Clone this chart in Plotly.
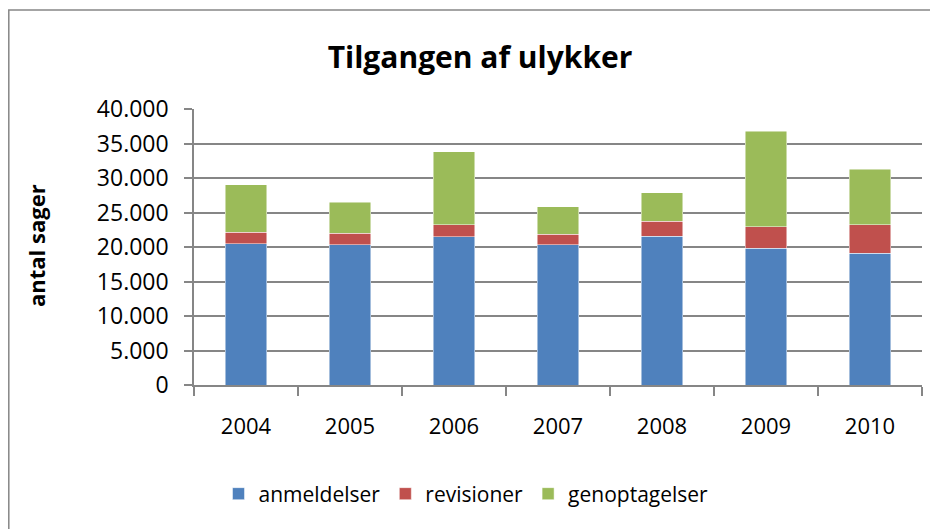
import plotly.graph_objects as go

years = ["2004", "2005", "2006", "2007", "2008", "2009", "2010"]
anmeldelser = [20500, 20300, 21500, 20300, 21550, 19850, 19100]
revisioner = [1650, 1700, 1700, 1550, 2200, 3050, 4100]
genoptagelser = [6900, 4500, 10600, 3950, 4100, 13850, 8050]
y_ticks = [0, 5000, 10000, 15000, 20000, 25000, 30000, 35000, 40000]
y_tick_labels = ["0", "5.000", "10.000", "15.000", "20.000", "25.000", "30.000", "35.000", "40.000"]

FONT = "Open Sans, Noto Sans, sans-serif"
OFF = 8  # page body margin
W, H = 938, 529
L, T = 194 - OFF, 109 - OFF
R = W - (922 - OFF)
B = H - (385 - OFF)
pw, ph = W - L - R, H - T - B

def px(x):  # page pixel -> paper x
    return (x - OFF - L) / pw

def py(y):  # page pixel -> paper y
    return (H - B - (y - OFF)) / ph

fig = go.Figure()
series = [("anmeldelser", anmeldelser, "#4F81BD"),
          ("revisioner", revisioner, "#C0504D"),
          ("genoptagelser", genoptagelser, "#9BBB59")]
for name, vals, col in series:
    fig.add_trace(go.Bar(x=years, y=vals, name=name,
                         marker=dict(color=col, line=dict(color="rgba(255,255,255,0.6)", width=0.8))))

fig.update_layout(
    width=W, height=H,
    barmode="stack", bargap=0.6,
    margin=dict(l=L, r=R, t=T, b=B, autoexpand=False),
    paper_bgcolor="white", plot_bgcolor="white",
    font=dict(family=FONT, color="black", size=22),
    title=dict(text="<b>Tilgangen af ulykker</b>", x=px(480), xref="paper", xanchor="center",
               y=1 - (57 - OFF) / H, yref="container", yanchor="middle",
               font=dict(family=FONT, size=30, color="black")),
    showlegend=True,
    legend=dict(orientation="h", x=px(466), xanchor="center", y=py(494), yanchor="middle",
                font=dict(family=FONT, size=21), traceorder="normal", itemwidth=30,
                bgcolor="rgba(0,0,0,0)"),
    xaxis=dict(type="category", showline=True, linecolor="#868686", linewidth=1.5,
               ticks="outside", tickson="boundaries", ticklen=9, tickcolor="#868686", tickwidth=1.5,
               tickfont=dict(family=FONT, size=22), ticklabelstandoff=21,
               showgrid=False, range=[-0.5, 6.5]),
    yaxis=dict(range=[0, 40000], tickvals=y_ticks, ticktext=y_tick_labels,
               showline=True, linecolor="#868686", linewidth=1.5,
               ticks="outside", ticklen=8, tickcolor="#868686", tickwidth=1.5,
               tickfont=dict(family=FONT, size=23), ticklabelstandoff=11,
               showgrid=True, gridcolor="#868686", gridwidth=1.5, zeroline=False),
    annotations=[dict(text="<b>antal sager</b>", textangle=-90, x=px(36), y=py(246),
                      xref="paper", yref="paper", xanchor="center", yanchor="middle",
                      showarrow=False,
                      font=dict(family=FONT, size=22, color="black"))],
    shapes=[dict(type="rect", xref="paper", yref="paper",
                 x0=px(8.8), x1=px(1000), y0=py(600), y1=py(10),
                 line=dict(color="#868686", width=1.5), layer="below")],
)

fig.write_html("out.html")
